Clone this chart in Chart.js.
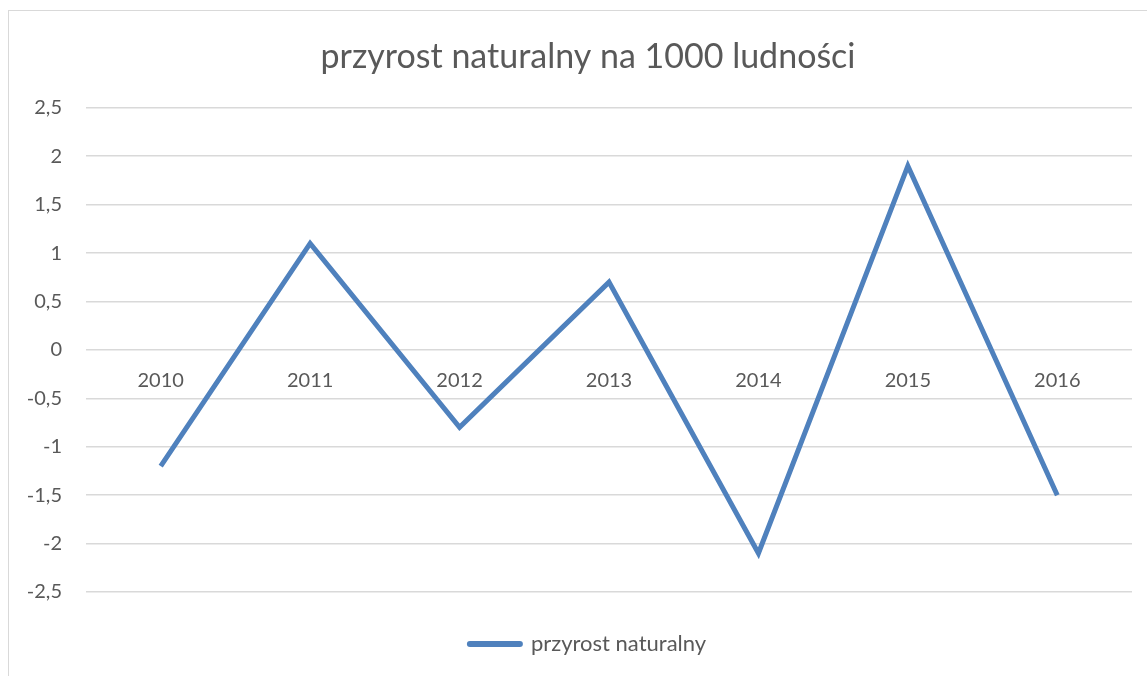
<!DOCTYPE html>
<html>
<head>
<meta charset="utf-8">
<script src="https://cdn.jsdelivr.net/npm/chart.js@4.4.0/dist/chart.umd.min.js"></script>
<style>
  html, body { margin: 0; padding: 0; background: #fff; overflow: hidden; }
  #wrap {
    position: absolute; left: 8px; top: 10px;
    width: 1160px; height: 690px;
    border: 1px solid #d9d9d9; box-sizing: border-box; background: #fff;
  }
</style>
</head>
<body>
<div id="wrap"><canvas id="myChart"></canvas></div>
<script>
// values
const years = ['2010', '2011', '2012', '2013', '2014', '2015', '2016'];
const przyrost = [-1.2, 1.1, -0.8, 0.7, -2.1, 1.9, -1.5];
const yMin = -2.5;
const yMax = 2.5;
const yStep = 0.5;

const textColor = '#595959';
const lineColor = '#4f81bd';
const fontFamily = 'Lato, "Open Sans", "Liberation Sans", sans-serif';

const ctx = document.getElementById('myChart');
new Chart(ctx, {
  type: 'line',
  data: {
    labels: years,
    datasets: [{
      label: 'przyrost naturalny',
      data: przyrost,
      borderColor: lineColor,
      backgroundColor: lineColor,
      borderWidth: 5,
      pointRadius: 0,
      pointHoverRadius: 0,
      tension: 0,
      fill: false
    }]
  },
  options: {
    responsive: true,
    maintainAspectRatio: false,
    animation: false,
    layout: { padding: { left: 0, right: 0, bottom: 34 } },
    plugins: {
      title: {
        display: true,
        text: 'przyrost naturalny na 1000 ludności',
        color: textColor,
        font: { family: fontFamily, size: 34, weight: 'normal' },
        padding: { top: 26, bottom: 30 }
      },
      legend: {
        position: 'bottom',
        labels: {
          color: textColor,
          font: { family: fontFamily, size: 22 },
          padding: 41,
          usePointStyle: true,
          pointStyleWidth: 50,
          generateLabels: (chart) => [{
            text: 'przyrost naturalny',
            pointStyle: 'line',
            strokeStyle: lineColor,
            fillStyle: lineColor,
            lineWidth: 6,
            lineCap: 'round',
            fontColor: textColor,
            datasetIndex: 0
          }]
        }
      },
      tooltip: { enabled: false }
    },
    scales: {
      x: {
        position: { y: 0 },
        offset: true,
        grid: { display: false, drawTicks: false },
        border: { display: false },
        ticks: {
          color: textColor,
          font: { family: fontFamily, size: 20 },
          padding: 19
        }
      },
      y: {
        min: yMin,
        max: yMax,
        afterFit: (scale) => { scale.width = 77; },
        grid: { color: '#d9d9d9', lineWidth: 1.5, drawTicks: false },
        border: { display: false },
        ticks: {
          stepSize: yStep,
          color: textColor,
          font: { family: fontFamily, size: 20 },
          padding: 24,
          callback: (v) => String(v).replace('.', ',')
        }
      },
      // empty right-hand gap, like the reference
      yRight: {
        position: 'right',
        min: yMin,
        max: yMax,
        afterFit: (scale) => { scale.width = 35; },
        grid: { display: false, drawTicks: false },
        border: { display: false },
        ticks: { display: false }
      }
    }
  }
});
</script>
</body>
</html>
